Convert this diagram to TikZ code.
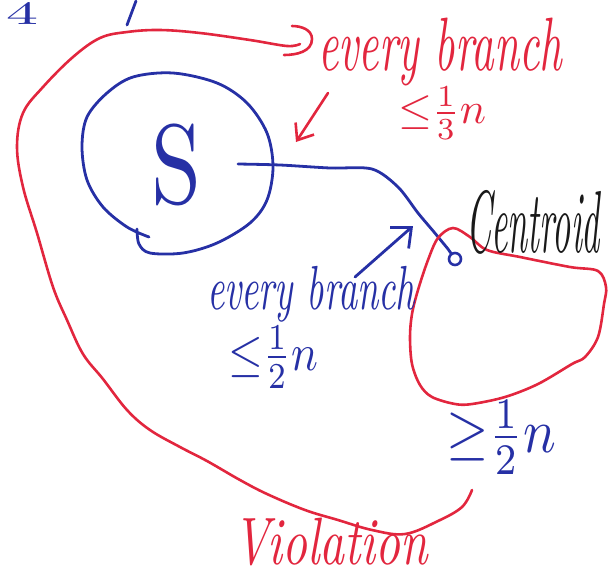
\documentclass[tikz,border=0pt]{standalone}
\usepackage{fontspec}
\usepackage{graphicx}
\usetikzlibrary{arrows.meta}
\definecolor{penred}{RGB}{226,38,62}
\definecolor{penblue}{RGB}{38,48,165}
\definecolor{penblack}{RGB}{25,25,25}
\newcommand{\fitbox}[3]{\resizebox*{#1pt}{#2pt}{#3}}
\begin{document}
\begin{tikzpicture}[x=1pt,y=-1pt, line cap=round, line join=round,
  redpen/.style={draw=penred, line width=2.6pt},
  bluepen/.style={draw=penblue, line width=2.8pt},
  lbl/.style={inner sep=0pt, outer sep=0pt, anchor=north west}]
\useasboundingbox (0,0) rectangle (610,574);

% top-left partial marks
\node[lbl, text=penblue] (four) at (6,2) {\fitbox{32}{22}{4}};
\coordinate (ta) at (136,1);
\coordinate (tb) at (127,25);
\draw[bluepen] (ta) -- (tb);

% outer red curve with hand-drawn arrow head
\coordinate (rend) at (300,44);
\draw[redpen] plot[smooth, tension=0.6] coordinates {
  (472,490) (462,507) (438,521) (405,534) (372,530) (338,520) (305,510)
  (267,494) (240,480) (207,461) (180,447) (150,430) (127,410) (103,379)
  (83,354) (67,320) (53,287) (37,233) (23,187) (17,147) (23,113) (43,87)
  (73,57) (100,38) (127,32) (160,30) (200,33) (250,40) (287,46) (rend)};
\draw[redpen] (292,26) to[out=0,in=90] (312,39) to[out=-90,in=0] (284,55);

% set S
\draw[bluepen] plot[smooth, tension=0.55] coordinates {
  (137,229) (139,244) (150,253) (183,253) (217,243) (250,223) (267,200)
  (273,167) (267,133) (247,103) (217,83) (173,73) (133,77) (107,93)
  (87,117) (82,147) (87,180) (103,207) (127,227) (149,237)};
\node[lbl, text=penblue] (S) at (151,124) {\fitbox{50}{82}{S}};

% centroid and path from S
\node[circle, draw=penblue, line width=2.6pt, minimum size=12pt, inner sep=0pt] (cen) at (455,259) {};
\coordinate (pstart) at (238,164);
\draw[bluepen] plot[smooth, tension=0.5] coordinates {
  (pstart) (280,165) (330,168) (372,169) (398,187) (418,213) (434,232) (448,249)} -- (cen);

% inner red loop (subtree beyond centroid)
\draw[redpen] plot[smooth cycle, tension=0.55] coordinates {
  (438,238) (453,228) (470,237) (487,250) (520,257) (570,267) (598,271)
  (606,287) (604,304) (598,337) (585,357) (572,364) (538,384) (505,397)
  (472,404) (455,404) (432,397) (420,385) (412,364) (410,337) (412,314)
  (418,290) (428,260)};

% arrows
\coordinate (ra1) at (328,93);
\coordinate (ra2) at (296,142);
\draw[redpen, -{Straight Barb[length=14pt,width=22pt,line width=2.6pt]}] (ra1) -- (ra2);
\coordinate (ba1) at (355,277);
\coordinate (ba2) at (413,226);
\draw[bluepen, -{Straight Barb[length=16pt,width=28pt,line width=2.8pt]}] (ba1) -- (ba2);

% labels
\node[lbl, text=penred] (t1) at (318,18) {\fitbox{244}{68}{\itshape every branch}};
\node[lbl, text=penred] (t2) at (398,87) {\fitbox{88}{52}{${\le}\frac{1}{3}n$}};
\node[lbl, text=penblack] (t3) at (466,190) {\fitbox{134}{64}{\itshape Centroid}};
\node[lbl, text=penblue] (t4) at (207,266) {\fitbox{208}{56}{\itshape every branch}};
\node[lbl, text=penblue] (t5) at (228,326) {\fitbox{90}{62}{${\le}\frac{1}{2}n$}};
\node[lbl, text=penblue] (t6) at (446,400) {\fitbox{110}{74}{${\ge}\frac{1}{2}n$}};
\node[lbl, text=penred] (t7) at (233,518) {\fitbox{195}{48}{\itshape Violation}};
\end{tikzpicture}
\end{document}
